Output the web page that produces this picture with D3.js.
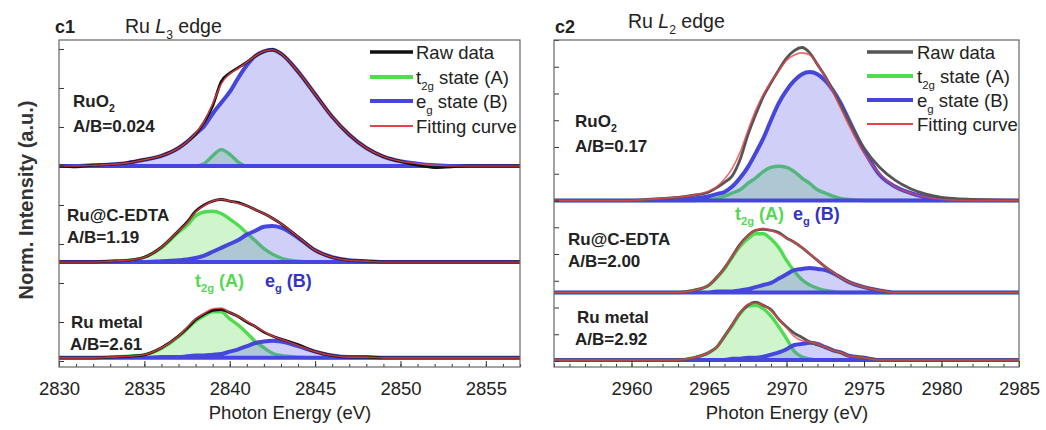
<!DOCTYPE html>
<html>
<head>
<meta charset="utf-8">
<script src="https://cdn.jsdelivr.net/npm/d3@7"></script>
<style>
  body { margin: 0; background: #fff; }
  svg { display: block; font-family: "Liberation Sans", Arial, sans-serif; }
</style>
</head>
<body>
<div id="chart"></div>
<script>
// ---- Ru L3 edge (c1) ----
const l3Energy = [2830, 2831, 2832, 2833, 2834, 2835, 2836, 2837, 2837.5, 2838, 2838.5, 2839, 2839.5, 2840, 2840.5, 2841, 2841.5, 2842, 2842.5, 2843, 2844, 2845, 2846, 2847, 2848, 2849, 2850, 2851, 2852, 2853, 2854, 2855, 2857];

const l3RuO2Raw = [0, -0.01, 0.01, 0.02, 0.04, 0.08, 0.13, 0.23, 0.31, 0.41, 0.56, 0.77, 1.08, 1.19, 1.26, 1.33, 1.41, 1.47, 1.49, 1.44, 1.21, 0.92, 0.63, 0.40, 0.23, 0.12, 0.06, 0.01, -0.02, -0.01, 0, 0, 0];
const l3RuO2T2g = [0, 0, 0, 0, 0, 0, 0, 0, 0, 0, 0.03, 0.13, 0.21, 0.15, 0.05, 0, 0, 0, 0, 0, 0, 0, 0, 0, 0, 0, 0, 0, 0, 0, 0, 0, 0];
const l3RuO2Eg = [0, 0, 0.01, 0.02, 0.04, 0.08, 0.13, 0.23, 0.31, 0.41, 0.51, 0.67, 0.81, 0.95, 1.13, 1.29, 1.41, 1.47, 1.49, 1.44, 1.21, 0.92, 0.63, 0.40, 0.23, 0.12, 0.06, 0.03, 0.01, 0, 0, 0, 0];
const l3RuO2Fit = [0, 0, 0.01, 0.02, 0.04, 0.08, 0.13, 0.23, 0.31, 0.42, 0.57, 0.80, 1.05, 1.18, 1.25, 1.33, 1.41, 1.47, 1.49, 1.44, 1.21, 0.92, 0.63, 0.40, 0.23, 0.12, 0.06, 0.03, 0.01, 0, 0, 0, 0];

const l3CeRaw = [0, 0, 0, 0.01, 0.02, 0.06, 0.19, 0.40, 0.51, 0.65, 0.73, 0.78, 0.80, 0.78, 0.76, 0.72, 0.67, 0.62, 0.56, 0.49, 0.32, 0.15, 0.06, 0.02, 0.01, 0, 0, 0, 0, 0, 0, 0, 0];
const l3CeT2g = [0, 0, 0, 0.01, 0.02, 0.06, 0.18, 0.38, 0.47, 0.59, 0.64, 0.65, 0.62, 0.55, 0.47, 0.37, 0.27, 0.17, 0.10, 0.05, 0.01, 0, 0, 0, 0, 0, 0, 0, 0, 0, 0, 0, 0];
const l3CeEg = [0, 0, 0, 0, 0, 0, 0.01, 0.02, 0.03, 0.05, 0.08, 0.13, 0.18, 0.23, 0.28, 0.35, 0.40, 0.45, 0.46, 0.44, 0.31, 0.15, 0.06, 0.02, 0.01, 0, 0, 0, 0, 0, 0, 0, 0];
const l3CeFit = [0, 0, 0, 0.01, 0.02, 0.06, 0.19, 0.40, 0.50, 0.64, 0.72, 0.78, 0.80, 0.78, 0.75, 0.72, 0.67, 0.62, 0.56, 0.49, 0.32, 0.15, 0.06, 0.02, 0.01, 0, 0, 0, 0, 0, 0, 0, 0];

const l3MetalRaw = [0, 0, 0, 0.01, 0.02, 0.04, 0.13, 0.28, 0.38, 0.49, 0.56, 0.61, 0.62, 0.58, 0.53, 0.46, 0.40, 0.33, 0.28, 0.24, 0.17, 0.08, 0.03, 0.01, 0.01, 0, 0, 0, 0, 0, 0, 0, 0];
const l3MetalT2g = [0, 0, 0, 0.01, 0.02, 0.04, 0.12, 0.27, 0.37, 0.47, 0.54, 0.59, 0.59, 0.50, 0.42, 0.32, 0.21, 0.13, 0.06, 0.03, 0.01, 0, 0, 0, 0, 0, 0, 0, 0, 0, 0, 0, 0];
const l3MetalEg = [0, 0, 0, 0, 0, 0, 0.01, 0.01, 0.02, 0.03, 0.03, 0.04, 0.05, 0.08, 0.11, 0.15, 0.19, 0.21, 0.22, 0.21, 0.15, 0.08, 0.03, 0.01, 0.01, 0, 0, 0, 0, 0, 0, 0, 0];
const l3MetalFit = [0, 0, 0, 0.01, 0.02, 0.04, 0.13, 0.28, 0.39, 0.50, 0.57, 0.63, 0.64, 0.58, 0.53, 0.47, 0.40, 0.34, 0.28, 0.24, 0.16, 0.08, 0.03, 0.01, 0.01, 0, 0, 0, 0, 0, 0, 0, 0];

// ---- Ru L2 edge (c2) ----
const l2Energy = [2955, 2958, 2960, 2961, 2962, 2963, 2964, 2965, 2965.5, 2966, 2966.5, 2967, 2967.5, 2968, 2968.5, 2969, 2969.5, 2970, 2970.5, 2971, 2971.5, 2972, 2972.5, 2973, 2973.5, 2974, 2975, 2976, 2977, 2978, 2979, 2980, 2982, 2985];

const l2RuO2Raw = [0, 0, 0, 0.01, 0.02, 0.03, 0.05, 0.08, 0.12, 0.17, 0.23, 0.38, 0.61, 0.80, 0.97, 1.10, 1.22, 1.33, 1.40, 1.43, 1.38, 1.27, 1.16, 1.03, 0.89, 0.75, 0.49, 0.31, 0.19, 0.11, 0.06, 0.03, 0.01, 0];
const l2RuO2T2g = [0, 0, 0, 0, 0, 0, 0, 0.01, 0.02, 0.04, 0.07, 0.10, 0.16, 0.21, 0.27, 0.31, 0.32, 0.31, 0.27, 0.21, 0.16, 0.10, 0.07, 0.04, 0.02, 0.01, 0, 0, 0, 0, 0, 0, 0, 0];
const l2RuO2Eg = [0, 0, 0, 0, 0, 0.01, 0.02, 0.04, 0.06, 0.08, 0.13, 0.21, 0.31, 0.44, 0.58, 0.75, 0.91, 1.03, 1.12, 1.18, 1.20, 1.18, 1.12, 1.03, 0.91, 0.76, 0.47, 0.24, 0.13, 0.07, 0.03, 0.01, 0, 0];
const l2RuO2Fit = [0, 0, 0, 0.01, 0.02, 0.03, 0.05, 0.09, 0.13, 0.20, 0.30, 0.45, 0.65, 0.84, 0.99, 1.11, 1.21, 1.31, 1.36, 1.38, 1.36, 1.27, 1.15, 1.01, 0.86, 0.71, 0.44, 0.25, 0.13, 0.07, 0.03, 0.01, 0, 0];

const l2CeRaw = [0, 0, 0, 0, 0, 0, 0.02, 0.07, 0.14, 0.23, 0.34, 0.45, 0.53, 0.58, 0.59, 0.58, 0.56, 0.51, 0.47, 0.42, 0.36, 0.30, 0.24, 0.19, 0.14, 0.10, 0.05, 0.02, 0, 0, 0, 0, 0, 0];
const l2CeT2g = [0, 0, 0, 0, 0, 0, 0.02, 0.07, 0.14, 0.22, 0.33, 0.43, 0.50, 0.55, 0.55, 0.50, 0.42, 0.30, 0.20, 0.12, 0.07, 0.04, 0.02, 0.01, 0, 0, 0, 0, 0, 0, 0, 0, 0, 0];
const l2CeEg = [0, 0, 0, 0, 0, 0, 0, 0, 0.01, 0.01, 0.01, 0.02, 0.03, 0.05, 0.07, 0.09, 0.13, 0.17, 0.21, 0.22, 0.23, 0.22, 0.21, 0.18, 0.14, 0.10, 0.05, 0.02, 0, 0, 0, 0, 0, 0];
const l2CeFit = [0, 0, 0, 0, 0, 0, 0.02, 0.07, 0.14, 0.23, 0.34, 0.44, 0.53, 0.58, 0.60, 0.58, 0.55, 0.51, 0.47, 0.42, 0.36, 0.30, 0.24, 0.19, 0.14, 0.10, 0.05, 0.02, 0, 0, 0, 0, 0, 0];

const l2MetalRaw = [0, 0, 0, 0, 0, 0, 0.02, 0.07, 0.12, 0.22, 0.33, 0.44, 0.51, 0.54, 0.51, 0.47, 0.38, 0.31, 0.25, 0.21, 0.17, 0.14, 0.12, 0.09, 0.07, 0.04, 0.02, 0, 0, 0, 0, 0, 0, 0];
const l2MetalT2g = [0, 0, 0, 0, 0, 0, 0.02, 0.07, 0.12, 0.22, 0.32, 0.43, 0.50, 0.51, 0.48, 0.41, 0.31, 0.20, 0.08, 0.03, 0.01, 0, 0, 0, 0, 0, 0, 0, 0, 0, 0, 0, 0, 0];
const l2MetalEg = [0, 0, 0, 0, 0, 0, 0, 0, 0, 0, 0.01, 0.01, 0.02, 0.02, 0.03, 0.05, 0.07, 0.10, 0.14, 0.15, 0.16, 0.15, 0.12, 0.09, 0.07, 0.04, 0.02, 0, 0, 0, 0, 0, 0, 0];
const l2MetalFit = [0, 0, 0, 0, 0, 0, 0.02, 0.07, 0.12, 0.22, 0.33, 0.44, 0.52, 0.53, 0.51, 0.46, 0.38, 0.30, 0.22, 0.18, 0.17, 0.15, 0.12, 0.09, 0.07, 0.04, 0.02, 0, 0, 0, 0, 0, 0, 0];

// vertical stacking offsets (RuO2, Ru@C-EDTA, Ru metal)
const l3Offsets = [2.5, 1.27, 0.04];
const l2Offsets = [1.5, 0.64, 0.01];

const l3Ratios = ['A/B=0.024', 'A/B=1.19', 'A/B=2.61'];
const l2Ratios = ['A/B=0.17', 'A/B=2.00', 'A/B=2.92'];

const l3TickLabels = [2830, 2835, 2840, 2845, 2850, 2855];
const l2TickLabels = [2960, 2965, 2970, 2975, 2980, 2985];

const legendNames = [
  [{t: 'Raw data'}],
  [{t: 't'}, {t: '2g', sub: true}, {t: ' state (A)'}],
  [{t: 'e'}, {t: 'g', sub: true}, {t: ' state (B)'}],
  [{t: 'Fitting curve'}]
];

// write text made of parts, with small lowered subscripts
function richText(sel, parts, size) {
  let shift = 0;
  parts.forEach(p => {
    const ts = sel.append('tspan').text(p.t);
    const want = p.sub ? Math.round(size * 0.3) : 0;
    if (want !== shift) { ts.attr('dy', want - shift); shift = want; }
    if (p.sub) ts.attr('font-size', size * 0.62);
    if (p.it) ts.attr('font-style', 'italic');
  });
}

class XasPanel {
  /**
   * one stacked XAS panel with three samples
   */
  constructor(_config, _samples) {
    this.config = _config;
    this.samples = _samples;
    this.initVis();
    this.renderVis();
  }

  initVis() {
    let vis = this;
    const c = vis.config;

    vis.g = c.svg.append('g')
      .attr('transform', `translate(${c.left},${c.top})`);

    vis.x = d3.scaleLinear().domain(c.xDomain).range([0, c.width]);
    vis.y = d3.scaleLinear().domain(c.yDomain).range([c.height, 0]);

    vis.g.append('clipPath').attr('id', c.id + '-clip')
      .append('rect').attr('width', c.width).attr('height', c.height);

    vis.plot = vis.g.append('g').attr('clip-path', `url(#${c.id}-clip)`);

    // minor ticks (inward)
    vis.g.append('g')
      .attr('transform', `translate(0,${c.height})`)
      .call(d3.axisBottom(vis.x).tickValues(d3.range(c.xDomain[0], c.xDomain[1] + 0.01, 1))
        .tickSize(-3).tickFormat(''))
      .call(g => g.select('.domain').remove())
      .call(g => g.selectAll('line').attr('stroke', '#333'));

    // major ticks with labels
    vis.g.append('g')
      .attr('transform', `translate(0,${c.height})`)
      .call(d3.axisBottom(vis.x).tickValues(c.tickLabels).tickFormat(d3.format('d'))
        .tickSizeInner(-6).tickSizeOuter(0).tickPadding(15))
      .call(g => g.select('.domain').remove())
      .call(g => g.selectAll('line').attr('stroke', '#333'))
      .call(g => g.selectAll('text').attr('font-size', 18.5).attr('fill', '#222')
        .attr('font-family', '"Liberation Sans", Arial, sans-serif'));

    vis.g.append('g')
      .call(d3.axisLeft(vis.y).tickValues(d3.range(0, c.yDomain[1] + 0.001, c.yTickStep))
        .tickSize(-5).tickFormat(''))
      .call(g => g.select('.domain').remove())
      .call(g => g.selectAll('line').attr('stroke', '#333'));

    vis.g.append('rect')
      .attr('width', c.width).attr('height', c.height)
      .attr('fill', 'none').attr('stroke', '#666').attr('stroke-width', 1.2);
  }

  renderVis() {
    let vis = this;
    const c = vis.config;
    const svg = c.svg;

    vis.samples.forEach(s => {
      const rows = c.energy.map((e, i) => ({e: e, raw: s.raw[i], t2g: s.t2g[i], eg: s.eg[i], fit: s.fit[i]}));
      const line = key => d3.line()
        .x(d => vis.x(d.e))
        .y(d => vis.y(s.offset + d[key]))
        .curve(d3.curveMonotoneX);
      const area = key => d3.area()
        .x(d => vis.x(d.e))
        .y0(vis.y(s.offset))
        .y1(d => vis.y(s.offset + d[key]))
        .curve(d3.curveMonotoneX);

      vis.plot.append('path').datum(rows).attr('d', area('t2g')).attr('fill', c.t2gFill);
      vis.plot.append('path').datum(rows).attr('d', line('t2g'))
        .attr('fill', 'none').attr('stroke', c.t2gColor).attr('stroke-width', 3.4);
      // e_g component: filled and outlined, its outline includes the zero line
      vis.plot.append('path').datum(rows).attr('d', area('eg'))
        .attr('fill', c.egFill).attr('stroke', c.egColor).attr('stroke-width', 4)
        .attr('stroke-linejoin', 'round');
      vis.plot.append('path').datum(rows).attr('d', line('raw'))
        .attr('fill', 'none').attr('stroke', c.rawColor).attr('stroke-width', 2.8);
      vis.plot.append('path').datum(rows).attr('d', line('fit'))
        .attr('fill', 'none').attr('stroke', c.fitColor).attr('stroke-opacity', 0.8).attr('stroke-width', 1.6);

      // sample name and ratio
      const nm = svg.append('text').attr('x', s.label.x).attr('y', s.label.y[0])
        .attr('font-size', 17).attr('font-weight', 'bold').attr('fill', '#222');
      richText(nm, s.name, 17);
      svg.append('text').attr('x', s.label.x2 || s.label.x).attr('y', s.label.y[1])
        .attr('font-size', 17).attr('font-weight', 'bold').attr('fill', '#222')
        .text(s.ratio);
    });

    // panel tag and title
    svg.append('text').attr('x', c.tag.x).attr('y', c.tag.y)
      .attr('font-size', 18).attr('font-weight', 'bold').attr('fill', '#222').text(c.tag.text);
    const tt = svg.append('text').attr('x', c.title.x).attr('y', c.title.y)
      .attr('font-size', 19.5).attr('fill', '#222');
    richText(tt, c.title.parts, 19.5);

    // legend
    const colors = [c.rawColor, c.t2gColor, c.egColor, c.fitColor];
    const widths = [3.6, 4, 4, 2];
    legendNames.forEach((parts, i) => {
      const ly = c.legend.rows[i];
      svg.append('line').attr('x1', c.legend.x0).attr('x2', c.legend.x1)
        .attr('y1', ly).attr('y2', ly)
        .attr('stroke', colors[i]).attr('stroke-width', widths[i]);
      const t = svg.append('text').attr('x', c.legend.tx).attr('y', ly + 6.5)
        .attr('font-size', 18.5).attr('fill', '#222');
      richText(t, parts, 18.5);
    });

    // component annotation
    const a = svg.append('text').attr('x', c.annot.ax).attr('y', c.annot.y)
      .attr('font-size', 18).attr('font-weight', 'bold').attr('fill', '#55d855');
    richText(a, [{t: 't'}, {t: '2g', sub: true}, {t: ' (A)'}], 18);
    const b = svg.append('text').attr('x', c.annot.bx).attr('y', c.annot.y)
      .attr('font-size', 18).attr('font-weight', 'bold').attr('fill', '#3333c4');
    richText(b, [{t: 'e'}, {t: 'g', sub: true}, {t: ' (B)'}], 18);

    svg.append('text').attr('x', c.xLabel.x).attr('y', c.xLabel.y)
      .attr('text-anchor', 'middle').attr('font-size', 18.5).attr('fill', '#222')
      .text('Photon Energy (eV)');
  }
}

const svg = d3.select('#chart').append('svg').attr('width', 1046).attr('height', 430);
svg.append('rect').attr('width', 1046).attr('height', 430).attr('fill', '#fff');

const sampleNames = [
  [{t: 'RuO'}, {t: '2', sub: true}],
  [{t: 'Ru@C-EDTA'}],
  [{t: 'Ru metal'}]
];

const common = {
  svg: svg,
  t2gColor: '#4fdc4f',
  egColor: '#4646dc',
  fitColor: '#e8434a',
  t2gFill: 'rgba(110,225,95,0.32)',
  egFill: 'rgba(95,95,228,0.3)'
};

new XasPanel(Object.assign({}, common, {
  id: 'c1', left: 59, top: 40, width: 461, height: 327,
  xDomain: [2830, 2857], yDomain: [-0.077, 4.115], yTickStep: 0.5,
  tickLabels: l3TickLabels, energy: l3Energy, rawColor: '#111',
  tag: {x: 55, y: 33, text: 'c1'},
  title: {x: 125, y: 33, parts: [{t: 'Ru '}, {t: 'L', it: true}, {t: '3', sub: true}, {t: ' edge'}]},
  legend: {x0: 370, x1: 413, tx: 416, rows: [52, 77, 101, 126]},
  annot: {y: 287, ax: 195, bx: 265},
  xLabel: {x: 290, y: 419}
}), [
  {name: sampleNames[0], ratio: l3Ratios[0], offset: l3Offsets[0], raw: l3RuO2Raw, t2g: l3RuO2T2g, eg: l3RuO2Eg, fit: l3RuO2Fit, label: {x: 73, y: [107, 132]}},
  {name: sampleNames[1], ratio: l3Ratios[1], offset: l3Offsets[1], raw: l3CeRaw, t2g: l3CeT2g, eg: l3CeEg, fit: l3CeFit, label: {x: 67, y: [221, 243]}},
  {name: sampleNames[2], ratio: l3Ratios[2], offset: l3Offsets[2], raw: l3MetalRaw, t2g: l3MetalT2g, eg: l3MetalEg, fit: l3MetalFit, label: {x: 71, x2: 70, y: [328, 350]}}
]);

new XasPanel(Object.assign({}, common, {
  id: 'c2', left: 554, top: 40, width: 465, height: 327,
  xDomain: [2955, 2985], yDomain: [-0.056, 3.0], yTickStep: 0.25,
  tickLabels: l2TickLabels, energy: l2Energy, rawColor: '#555',
  tag: {x: 555, y: 33, text: 'c2'},
  title: {x: 628, y: 28, parts: [{t: 'Ru '}, {t: 'L', it: true}, {t: '2', sub: true}, {t: ' edge'}]},
  legend: {x0: 867, x1: 913, tx: 917, rows: [52, 76, 100, 124]},
  annot: {y: 220, ax: 735, bx: 793},
  xLabel: {x: 787, y: 419}
}), [
  {name: sampleNames[0], ratio: l2Ratios[0], offset: l2Offsets[0], raw: l2RuO2Raw, t2g: l2RuO2T2g, eg: l2RuO2Eg, fit: l2RuO2Fit, label: {x: 575, y: [127, 152]}},
  {name: sampleNames[1], ratio: l2Ratios[1], offset: l2Offsets[1], raw: l2CeRaw, t2g: l2CeT2g, eg: l2CeEg, fit: l2CeFit, label: {x: 568, y: [245, 267]}},
  {name: sampleNames[2], ratio: l2Ratios[2], offset: l2Offsets[2], raw: l2MetalRaw, t2g: l2MetalT2g, eg: l2MetalEg, fit: l2MetalFit, label: {x: 577, x2: 575, y: [323, 345]}}
]);

// shared y label
svg.append('text')
  .attr('transform', 'translate(33,200) rotate(-90)')
  .attr('text-anchor', 'middle').attr('font-size', 20).attr('font-weight', 'bold')
  .attr('fill', '#333').text('Norm. Intensity (a.u.)');
</script>
</body>
</html>
